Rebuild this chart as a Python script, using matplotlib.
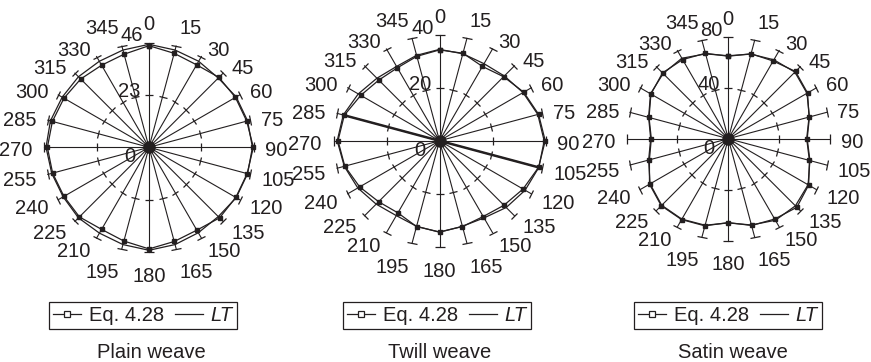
import numpy as np
import matplotlib
matplotlib.use("Agg")
import matplotlib.pyplot as plt
from matplotlib.markers import MarkerStyle
from matplotlib.transforms import Affine2D
from matplotlib.lines import Line2D

# ---------------- data ----------------
angles = [0, 15, 30, 45, 60, 75, 90, 105, 120, 135, 150, 165,
          180, 195, 210, 225, 240, 255, 270, 285, 300, 315, 330, 345]

plain_eq = [44.6, 42.7, 41.8, 43.4, 43.8, 44.4, 45.8, 44.6, 44.0, 43.8, 42.0, 42.8,
            44.6, 42.6, 41.6, 43.2, 43.1, 43.8, 44.6, 43.9, 43.1, 42.4, 41.6, 42.3]
plain_lt = [45.2, 44.2, 43.6, 43.0, 44.2, 44.8, 45.4, 44.8, 44.2, 43.0, 43.3, 44.2,
            45.2, 44.2, 43.5, 43.8, 43.5, 44.2, 45.2, 44.8, 44.0, 43.8, 43.6, 44.2]

twill_eq = [34.3, 34.2, 32.4, 34.2, 36.7, 38.7, 39.9, 38.7, 36.4, 34.4, 33.0, 33.5,
            34.4, 33.5, 31.4, 32.5, 34.8, 37.0, 38.3, 37.2, 34.3, 32.4, 31.8, 33.0]
twill_lt = [34.5, 34.0, 33.6, 34.6, 36.4, 38.4, 39.5, 38.8, 37.3, 35.6, 33.6, 33.4,
            34.5, 33.4, 32.6, 33.8, 35.6, 37.2, 38.6, 37.6, 35.4, 33.4, 32.4, 33.4]

satin_eq = [64.8, 69.1, 70.5, 74.7, 71.9, 65.7, 61.6, 66.0, 72.9, 76.2, 72.9, 70.6,
            65.9, 70.9, 73.4, 74.5, 71.5, 64.2, 60.5, 64.5, 70.2, 73.1, 71.8, 69.5]
satin_lt = [65.2, 68.8, 71.6, 74.0, 71.4, 66.0, 62.0, 66.4, 72.4, 74.6, 74.0, 70.2,
            66.2, 70.4, 73.0, 74.0, 71.0, 64.8, 61.0, 64.8, 70.6, 72.4, 73.0, 69.0]

plain_ticks = [0, 23, 46]
twill_ticks = [0, 20, 40]
satin_ticks = [0, 40, 80]

titles = ["Plain weave", "Twill weave", "Satin weave"]
series_labels = ["Eq. 4.28", "LT"]

# ---------------- style ----------------
W, H = 871, 362
DARK = "#231f20"
FS = 14.5
plt.rcParams["font.family"] = ["Liberation Sans", "DejaVu Sans"]
plt.rcParams["text.color"] = DARK

fig = plt.figure(figsize=(W / 100, H / 100), dpi=100)

# chart centres and radii in pixels
layout = [
    dict(cx=149.0, cy=147.3, R=104.8, leg_x=143, title_x=151, bold=[]),
    dict(cx=439.5, cy=140.8, R=106.0, leg_x=437, title_x=440, bold=[105, 285]),
    dict(cx=728.3, cy=138.7, R=101.8, leg_x=728, title_x=733, bold=[]),
]
datasets = [(plain_eq, plain_lt, plain_ticks),
            (twill_eq, twill_lt, twill_ticks),
            (satin_eq, satin_lt, satin_ticks)]

theta = np.deg2rad(angles)


def closed(a):
    return np.concatenate([a, a[:1]])


for lay, (eq, lt, ticks), title in zip(layout, datasets, titles):
    cx, cy, R = lay["cx"], lay["cy"], lay["R"]
    rect = [(cx - R) / W, (H - cy - R) / H, 2 * R / W, 2 * R / H]
    ax = fig.add_axes(rect, projection="polar")
    ax.set_theta_zero_location("N")
    ax.set_theta_direction(-1)
    rmax = ticks[-1]
    ax.set_ylim(0, rmax)
    ax.grid(False)
    ax.set_xticks([])
    ax.set_yticks([])
    ax.spines["polar"].set_visible(False)
    ax.patch.set_alpha(0)

    # spokes with tick marks
    for i, (a_deg, th) in enumerate(zip(angles, theta)):
        ax.plot([th, th], [0, rmax], color=DARK, lw=0.8, clip_on=False, zorder=2)
        if a_deg in lay["bold"]:
            ax.plot([th, th], [0, eq[i]], color=DARK, lw=1.8, zorder=2)
        mk = MarkerStyle("|", transform=Affine2D().rotate_deg(90 - a_deg))
        ax.plot([th], [rmax], marker=mk, ms=7, mew=0.9, color=DARK,
                clip_on=False, zorder=2)
        ax.plot([th], [ticks[1]], marker=mk, ms=5.5, mew=0.9, color=DARK,
                clip_on=False, zorder=2)
    ax.plot([0], [0], "o", ms=8, color=DARK, zorder=4)

    # data series
    ax.plot(closed(theta), closed(np.array(lt)), color=DARK, lw=0.9,
            clip_on=False, zorder=3)
    ax.plot(closed(theta), closed(np.array(eq)), color=DARK, lw=0.9,
            marker="s", ms=3, mfc=DARK, mec=DARK, clip_on=False, zorder=3)

    # angle labels
    for a_deg, th in zip(angles, theta):
        s, c = np.sin(th), np.cos(th)
        ha = "left" if s > 0.05 else ("right" if s < -0.05 else "center")
        va = "bottom" if c > 0.95 else ("top" if c < -0.95 else "center")
        ax.annotate(str(a_deg), xy=(th, rmax * 1.11), xytext=(0, -2.5),
                    textcoords="offset points", ha=ha, va=va,
                    fontsize=FS, color=DARK, annotation_clip=False)

    # radial labels
    ax.annotate(str(ticks[2]), xy=(0, rmax), xytext=(-4, 0.8),
                textcoords="offset points", ha="right", va="baseline",
                fontsize=FS, color=DARK, annotation_clip=False)
    ax.annotate(str(ticks[1]), xy=(0, ticks[1]), xytext=(-6, -1.5),
                textcoords="offset points", ha="right", va="baseline",
                fontsize=FS, color=DARK, annotation_clip=False)
    ax.annotate(str(ticks[0]), xy=(0, 0), xytext=(-10, 0),
                textcoords="offset points", ha="right", va="top",
                fontsize=FS, color=DARK, annotation_clip=False)

    # legend
    handles = [Line2D([], [], color=DARK, lw=0.9, marker="s", ms=4.5,
                      mfc="white", mec=DARK, mew=0.9),
               Line2D([], [], color=DARK, lw=0.9)]
    leg = fig.legend(handles, series_labels, loc="center",
                     bbox_to_anchor=(lay["leg_x"] / W, 1 - 315.5 / H),
                     ncol=2, frameon=True, fancybox=False, edgecolor=DARK,
                     framealpha=1, fontsize=FS, handlelength=1.4,
                     handletextpad=0.4, columnspacing=0.5, borderpad=0.2,
                     borderaxespad=0)
    leg.get_frame().set_linewidth(0.9)
    leg.get_texts()[1].set_fontstyle("italic")

    fig.text(lay["title_x"] / W, 1 - 353 / H, title, ha="center",
             va="center", fontsize=FS, color=DARK)

fig.savefig("out.png", dpi=100, facecolor="white")
